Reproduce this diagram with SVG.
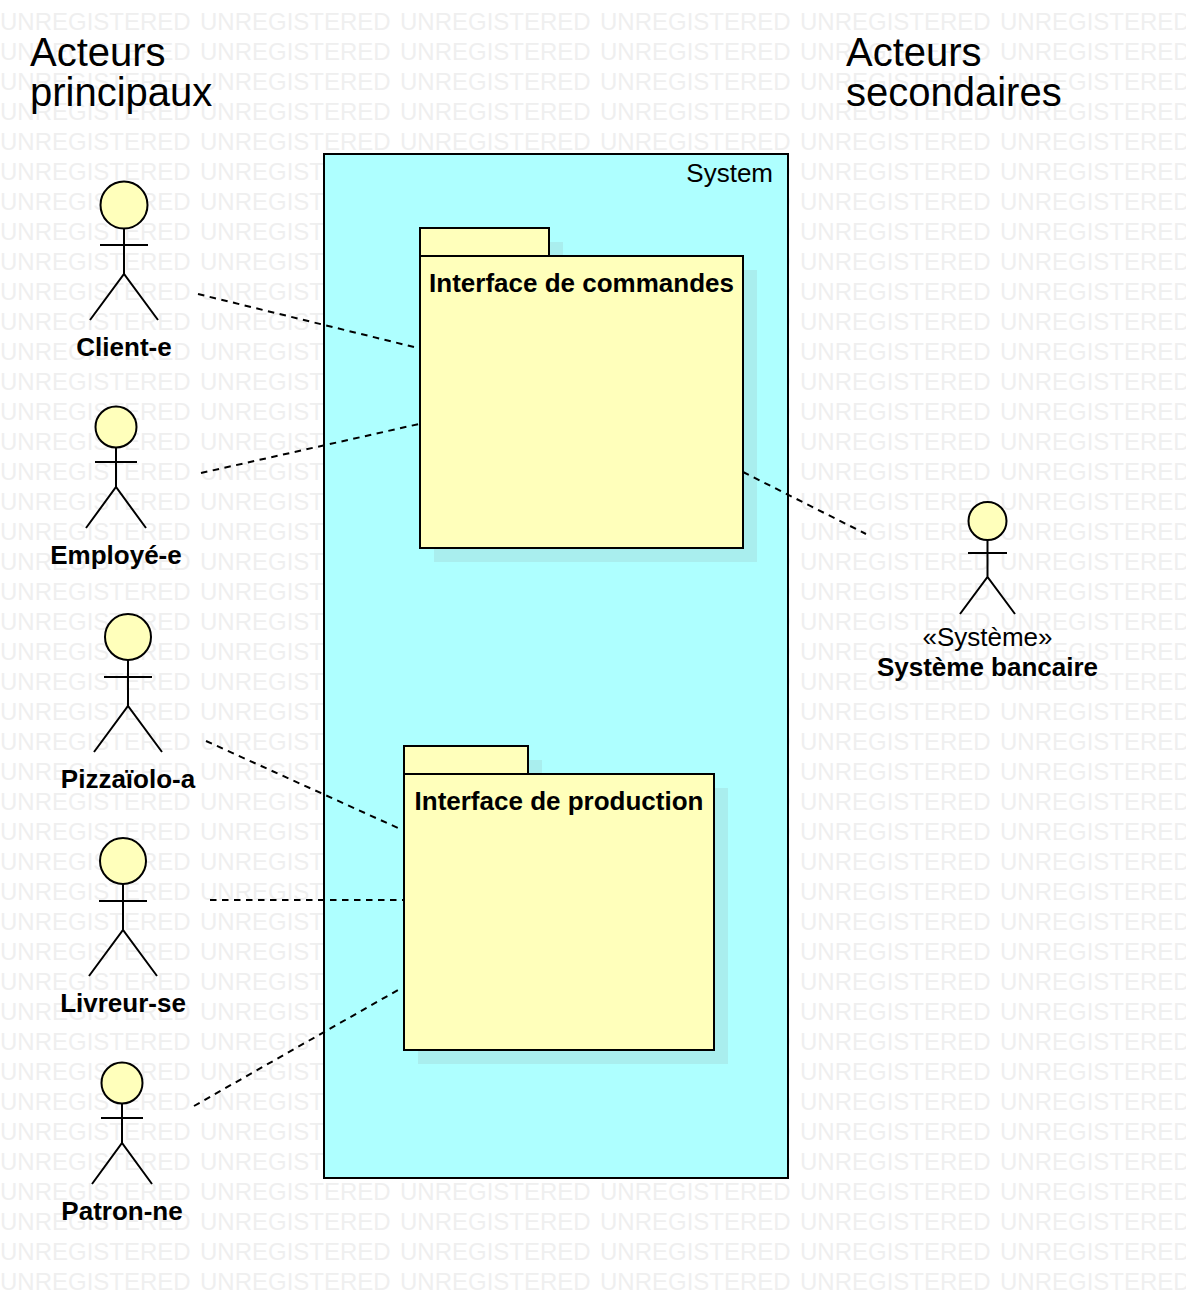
<svg xmlns="http://www.w3.org/2000/svg" xmlns:xlink="http://www.w3.org/1999/xlink" width="1186" height="1316" viewBox="0 0 1186 1316">
<style>
text{font-family:"Liberation Sans",Arial,sans-serif;fill:#000}
.w{font-size:24px;fill:#efefef}
.title{font-size:40px}
.label{font-size:26px;font-weight:bold;text-anchor:middle}
.plain{font-size:26px;text-anchor:middle}
.line{fill:none;stroke:#000;stroke-width:2}
.head{fill:#ffffbb;stroke:#000;stroke-width:2}
.shadow{fill:#a9eeee}
.dash{fill:none;stroke:#000;stroke-width:2;stroke-dasharray:6.5 5.5}
</style>
<defs>
<g id="wr"><text class="w" x="0" y="30">UNREGISTERED</text><text class="w" x="200" y="30">UNREGISTERED</text><text class="w" x="400" y="30">UNREGISTERED</text><text class="w" x="600" y="30">UNREGISTERED</text><text class="w" x="800" y="30">UNREGISTERED</text><text class="w" x="1000" y="30">UNREGISTERED</text></g>
<g id="wr2"><use xlink:href="#wr"/><use xlink:href="#wr" y="30"/><use xlink:href="#wr" y="60"/><use xlink:href="#wr" y="90"/><use xlink:href="#wr" y="120"/><use xlink:href="#wr" y="150"/><use xlink:href="#wr" y="180"/><use xlink:href="#wr" y="210"/><use xlink:href="#wr" y="240"/><use xlink:href="#wr" y="270"/></g>
</defs>
<rect width="1186" height="1316" fill="#fff"/>
<g id="watermark"><use xlink:href="#wr2"/><use xlink:href="#wr2" y="300"/><use xlink:href="#wr2" y="600"/><use xlink:href="#wr2" y="900"/><use xlink:href="#wr" y="1200"/><use xlink:href="#wr" y="1230"/><use xlink:href="#wr" y="1260"/></g>
<g id="titles"><text class="title" x="30" y="66">Acteurs</text><text class="title" x="30" y="106">principaux</text><text class="title" x="846" y="66">Acteurs</text><text class="title" x="846" y="106">secondaires</text></g>
<g id="system"><rect x="324" y="154" width="464" height="1024" fill="#aeffff" stroke="#000" stroke-width="2"/><text x="773" y="182" font-size="26" text-anchor="end">System</text></g>
<g id="pkg-commandes">
<rect class="shadow" x="434" y="242" width="129" height="28"/><rect class="shadow" x="434" y="270" width="323" height="292"/>
<rect class="head" x="420" y="228" width="129" height="28"/><rect class="head" x="420" y="256" width="323" height="292"/>
<text class="label" x="581.5" y="292">Interface de commandes</text></g>
<g id="pkg-production">
<rect class="shadow" x="418" y="760" width="124" height="28"/><rect class="shadow" x="418" y="788" width="310" height="276"/>
<rect class="head" x="404" y="746" width="124" height="28"/><rect class="head" x="404" y="774" width="310" height="276"/>
<text class="label" x="559" y="810">Interface de production</text></g>
<g id="connectors">
<path class="dash" d="M198 294L414 347"/><path class="dash" d="M201 473L419 424"/><path class="dash" d="M743 472L866 534"/><path class="dash" d="M206 741L398 828"/><path class="dash" d="M210 900L404 900"/><path class="dash" d="M194 1106L398 990"/>
</g>
<g id="client"><circle class="head" cx="124" cy="205" r="23.5"/><path class="line" d="M124 229V274M100 245H148M90 320L124 274L158 320"/><text class="label" x="124" y="356">Client-e</text></g>
<g id="employe"><circle class="head" cx="116" cy="427" r="20.5"/><path class="line" d="M116 448V487M95 462H137M86 528L116 487L146 528"/><text class="label" x="116" y="564">Employé-e</text></g>
<g id="pizzaiolo"><circle class="head" cx="128" cy="637" r="23"/><path class="line" d="M128 660V706M104 677H152M94 752L128 706L162 752"/><text class="label" x="128" y="788">Pizzaïolo-a</text></g>
<g id="livreur"><circle class="head" cx="123" cy="861" r="23"/><path class="line" d="M123 884V930M99 901H147M89 976L123 930L157 976"/><text class="label" x="123" y="1012">Livreur-se</text></g>
<g id="patron"><circle class="head" cx="122" cy="1083" r="20.5"/><path class="line" d="M122 1104V1143M101 1118H143M92 1184L122 1143L152 1184"/><text class="label" x="122" y="1220">Patron-ne</text></g>
<g id="banque"><circle class="head" cx="987.5" cy="521" r="19"/><path class="line" d="M987.5 540V577M968 553H1007M960 614L987.5 577L1015 614"/><text class="plain" x="987.5" y="646">«Système»</text><text class="label" x="987.5" y="676">Système bancaire</text></g>
</svg>
